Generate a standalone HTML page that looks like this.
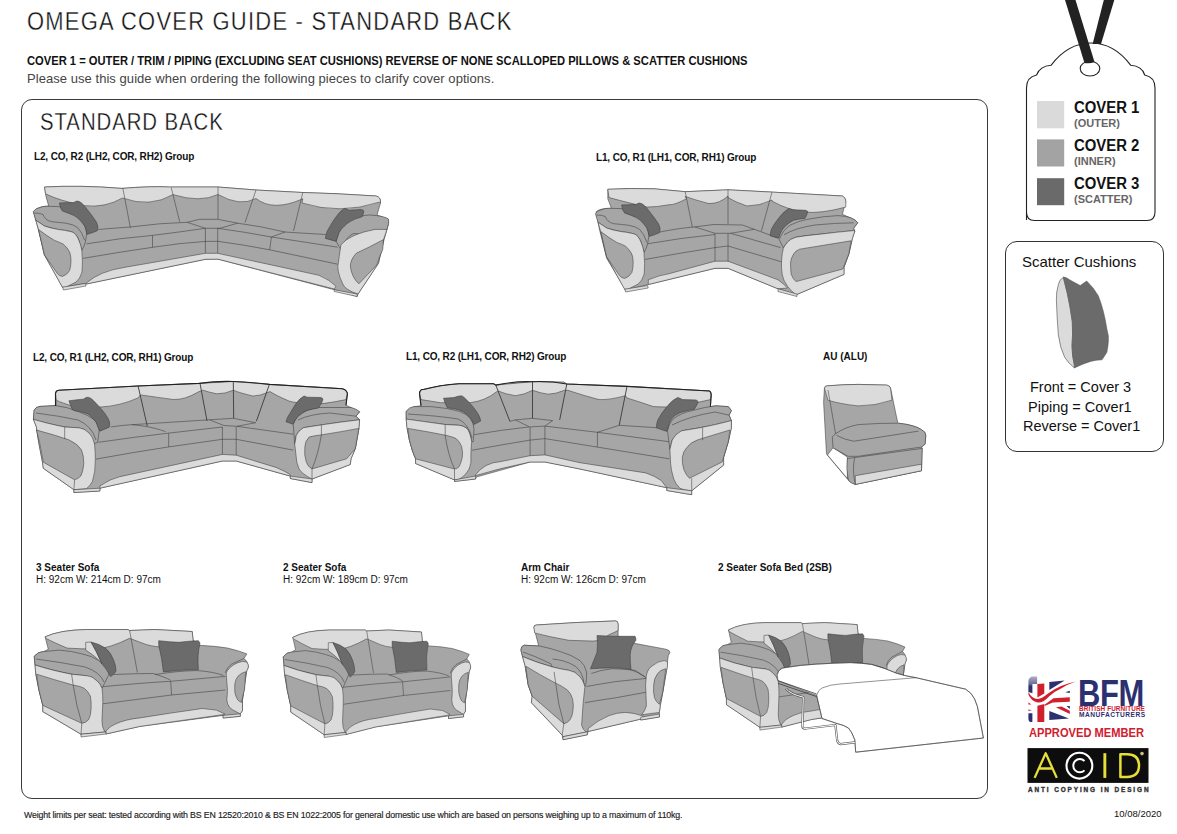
<!DOCTYPE html>
<html><head><meta charset="utf-8">
<style>
*{margin:0;padding:0;box-sizing:border-box}
html,body{width:1177px;height:834px;background:#fff;overflow:hidden;position:relative;font-family:"Liberation Sans",sans-serif;color:#111}
.t{position:absolute;white-space:nowrap;line-height:1}
.b{font-weight:bold}
svg{position:absolute;left:0;top:0}
</style></head><body>
<div class="t" id="title" style="left:27px;top:8.6px;font-size:25.5px;letter-spacing:1.45px;transform:scaleX(0.86);transform-origin:0 0;-webkit-text-stroke:0.35px #fff">OMEGA COVER GUIDE - STANDARD BACK</div>
<div class="t b" id="l1" style="left:27px;top:54.3px;font-size:13px;transform:scaleX(0.86);transform-origin:0 0">COVER 1 = OUTER / TRIM / PIPING (EXCLUDING SEAT CUSHIONS) REVERSE OF NONE SCALLOPED PILLOWS &amp; SCATTER CUSHIONS</div>
<div class="t" id="l2" style="left:27px;top:72px;font-size:13px;color:#444;letter-spacing:0.05px">Please use this guide when ordering the following pieces to clarify cover options.</div>
<div style="position:absolute;left:21px;top:99px;width:967px;height:700px;border:1.3px solid #3a3a3a;border-radius:11px"></div>
<div class="t" id="sb" style="left:40px;top:111.2px;font-size:23.6px;letter-spacing:1.1px;transform:scaleX(0.862);transform-origin:0 0;-webkit-text-stroke:0.3px #fff">STANDARD BACK</div>
<div class="t b lab" style="left:34px;top:152.3px;font-size:10px;letter-spacing:-0.15px">L2, CO, R2 (LH2, COR, RH2) Group</div>
<div class="t b lab" style="left:596px;top:153.3px;font-size:10px;letter-spacing:-0.15px">L1, CO, R1 (LH1, COR, RH1) Group</div>
<div class="t b lab" style="left:33px;top:353.3px;font-size:10px;letter-spacing:-0.15px">L2, CO, R1 (LH2, COR, RH1) Group</div>
<div class="t b lab" style="left:406px;top:352.3px;font-size:10px;letter-spacing:-0.15px">L1, CO, R2 (LH1, COR, RH2) Group</div>
<div class="t b lab" style="left:823px;top:352.3px;font-size:10px">AU (ALU)</div>
<div class="t b lab" style="left:36px;top:563.3px;font-size:10px">3 Seater Sofa</div>
<div class="t lab" style="left:36px;top:575.3px;font-size:10px">H: 92cm W: 214cm D: 97cm</div>
<div class="t b lab" style="left:283px;top:563.3px;font-size:10px">2 Seater Sofa</div>
<div class="t lab" style="left:283px;top:575.3px;font-size:10px">H: 92cm W: 189cm D: 97cm</div>
<div class="t b lab" style="left:521px;top:563.3px;font-size:10px">Arm Chair</div>
<div class="t lab" style="left:521px;top:575.3px;font-size:10px">H: 92cm W: 126cm D: 97cm</div>
<div class="t b lab" style="left:718px;top:563.3px;font-size:10px">2 Seater Sofa Bed (2SB)</div>
<div class="t" style="left:24px;top:810.5px;font-size:8.8px;letter-spacing:-0.17px;color:#222;-webkit-text-stroke:0.15px #222">Weight limits per seat: tested according with BS EN 12520:2010 &amp; BS EN 1022:2005 for general domestic use which are based on persons weighing up to a maximum of 110kg.</div>
<div class="t" style="left:1114px;top:809px;font-size:9.5px">10/08/2020</div>

<!-- Tag -->
<svg width="1177" height="834" viewBox="0 0 1177 834">
<path d="M1026.5 220 L1026.5 88 Q1026.5 77 1036.6 75 Q1040 66 1051 65.3 Q1068 43 1091 43 Q1114 43 1130.8 65.3 Q1142 66 1144.7 75 Q1155 77 1155 88 L1155 212 Q1155 220.5 1147 220.5 L1034.5 220.5 Q1026.5 220.5 1026.5 212 Z" fill="#fff" stroke="#222" stroke-width="1.1"/>
<polygon points="1103.8,0 1114.3,0 1101,44 1092.6,44" fill="#222"/>
<ellipse cx="1090" cy="68.6" rx="9.8" ry="7.4" fill="#fff" stroke="#222" stroke-width="1.1"/>
<path d="M1065 0 L1075.5 0 L1094.5 62 Q1090 64 1084.5 63 Z" fill="#222"/>
<rect x="1037" y="101" width="27.2" height="27.3" fill="#dadada"/>
<rect x="1037" y="139.4" width="27.2" height="27.1" fill="#a3a3a3"/>
<rect x="1037" y="178.2" width="27.2" height="27" fill="#6a6a6a"/>
</svg>
<div class="t b" style="left:1074px;top:99.6px;font-size:16px;transform:scaleX(0.93);transform-origin:0 0">COVER 1</div>
<div class="t b" style="left:1074px;top:118px;font-size:11px;color:#666">(OUTER)</div>
<div class="t b" style="left:1074px;top:138.3px;font-size:16px;transform:scaleX(0.93);transform-origin:0 0">COVER 2</div>
<div class="t b" style="left:1074px;top:156px;font-size:11px;color:#666">(INNER)</div>
<div class="t b" style="left:1074px;top:176px;font-size:16px;transform:scaleX(0.93);transform-origin:0 0">COVER 3</div>
<div class="t b" style="left:1074px;top:194px;font-size:11px;color:#666">(SCATTER)</div>

<!-- Scatter box -->
<div style="position:absolute;left:1005px;top:241px;width:159px;height:211px;border:1.2px solid #333;border-radius:12px"></div>
<div class="t" style="left:1022px;top:254px;font-size:15px">Scatter Cushions</div>
<div class="t" style="left:1030px;top:380px;font-size:14.5px">Front = Cover 3</div>
<div class="t" style="left:1028px;top:400px;font-size:14.5px">Piping = Cover1</div>
<div class="t" style="left:1023px;top:419px;font-size:14.5px">Reverse = Cover1</div>


<!-- SOFAS -->
<svg width="1177" height="834" viewBox="0 0 1177 834" style="stroke:#3a3a3a;stroke-width:0.55;stroke-linejoin:round">
<defs><style>.L{fill:#dbdbdb}.M{fill:#a6a6a6}.D{fill:#6b6b6b}.N{fill:none}</style></defs>
<g id="s1">
<!-- silhouette -->
<path class="M" d="M44.6 187 Q80 185 122 188.4 Q150 186 169.5 187 L218 187 L256 190 L302.8 192.5 L336 193.7 L376 196 Q381 197 380.5 203 L377 215 L388 219 L388.5 224 L384 240 L378.4 263.4 L358 294 L357.2 296.5 L334.2 289.7 L217.8 259.1 L205.4 259.3 L86.3 284 L85.4 283.5 L62.5 287.2 L44.4 254.8 L38.6 230.4 L33.6 212 Q36 207 47 206 L48.7 206 Q45 195 44.6 187 Z"/>
<!-- light back tops -->
<path class="L" d="M44.6 187 Q80 185 122 188.4 Q150 186 169.5 187 L218 187 L256 190 L302.8 192.5 L336 193.7 L376 196 Q381 197 380.5 203 L379.3 202.2 Q340 215 302 203 L302.8 198.8 Q273 212 256 198.5 Q240 207 218 194.5 Q200 203 173 194.6 Q150 208 122.5 198 Q105 208 84.6 205.7 Q60 201 45.5 193.8 Z"/>
<path class="N" d="M122.8 188 L130.4 227.8 M171.2 187.5 L179.7 221.8 M218 187 L218 219 M256 190 L245 222.6 M302.8 192.5 L293.5 231"/>
<!-- seat cushions -->
<path class="N" d="M86.3 243.9 Q120 238 152.5 235.4 Q180 232 205.4 228.3 M98.2 229.5 Q115 228 130.4 227 Q160 223 187.2 222.3 L199.5 219.3 L217.7 219.3 L237.7 223.2 L219.9 228.3 L205.4 228.3 L187.2 222.3 M152.5 235.4 L152.5 247.3 M217.7 228.3 Q245 232 271.4 237 L337.6 247.2 M237.7 223.2 Q260 226 285 232 Q300 233 325.7 234.5 M285 232 L271.4 237 L269.7 249.8 M82.9 258.4 Q120 252 152.5 247.3 Q180 243 205.4 241.4 M217.8 241.3 Q245 245 269.7 249.8 L337.6 264.2 M205.4 228.3 L205.4 259.3 M217.7 228.3 L217.7 259.3 M205.4 241.4 L217.7 241.3"/>
<!-- plinth -->
<path class="L" d="M86.3 283 Q100 271 125 267.3 L205.4 253.3 L217.7 253.3 L319 275.3 Q330 280 336 286.3 L334.2 289 L217.8 259.1 L205.4 259.3 L86.3 284 Z"/>
<!-- left arm -->
<g id="larm1">
<path class="M" d="M33.2 211.7 Q36 208 38.6 208 Q43 206 47.3 206.3 L58.8 206.6 Q66 208 73.2 212.4 Q80 216 83.2 221.7 Q86 227 86.8 233.2 L85.4 241.9 L84 246.2 L81.8 250.5 Q80 244 78.9 240.4 Q76 233 71.7 231.8 Q64 230 58.8 229.6 Q50 228 44.4 226 Q40 223 35.8 220.3 Z"/>
<path class="N" d="M34.3 213 Q40 213 43 214.5 Q44 217 45.8 218.8 Q48 221 51.6 221.7 Q60 222.5 66 223.2 Q74 224.5 77.5 227.5 Q82 232 84.7 240.4"/>
<path class="L" d="M35.8 220.3 Q40 223 44.4 226 Q50 228 58.8 229.6 Q64 230 71.7 231.8 Q76 233 78.9 240.4 Q81 245 81.8 250.5 Q83 262 82 272 Q80 279 76 282.1 L65.9 287.2 L62.4 287.2 L44.4 254.8 L38.6 230 Z"/>
<path class="M" d="M38.6 229.6 Q47 236 54.5 240.4 Q59 242 63.1 244 Q67 247 69.6 252 Q71 256 71 260.6 Q71 266 69.6 270.6 Q67 275 62.4 276.4 Q59 276 57.3 273.5 L44.4 254.8 Z"/>
<path class="L" d="M62.5 287.2 L85.4 283.5 L86 286 L63.5 290 Z"/>
<path class="D" d="M59.4 202.9 L73.8 202.6 Q75.5 201 77.4 201.1 Q79.5 201.5 81 202.6 Q84 205 87 209.2 Q91 214 94.2 218.8 Q97 222 97.8 226 Q98 229 97.2 230.8 Q92 233 87 234.4 Q86 229 84.6 226 Q82 222 78 218.2 Q74 215 69 213.4 L62.4 211 Q60 208 59.4 202.9 Z"/>
</g>
<!-- right arm -->
<path class="M" d="M336 241.3 Q338 228 345 222 Q360 215 370 215 Q385 216 388.6 219.2 L388.6 223.4 L387 229.4 Q375 235 353 233.6 Q345 238 341 249.8 Z"/>
<path class="L" d="M387 229.4 L383.5 239.6 L378.4 263.4 L358 294 Q345 290 342.7 283.8 Q336 270 338.5 262 Q340 250 341 244.7 Q350 234 375 229.4 Z"/>
<path class="M" d="M383.5 239.6 Q370 247 356.3 253.2 Q350 260 350.4 266.8 Q352 278 358.9 283.8 L376.7 265 Q380 255 382.7 249.8 Z"/>
<path class="L" d="M334.2 289.7 L357.2 294 L357.2 296.5 L334.2 291.5 Z"/>
<path class="D" d="M325.4 238.4 Q325.8 234 327.2 231.2 Q331 224 335.6 217.4 Q340 211 344.6 208.4 Q347 209 348.8 210.2 L361.4 209.6 Q363.8 210 363.8 211.4 Q363.5 214 362 216.8 Q355 218.5 350 221.6 Q347 223.5 344 226.4 Q341 229 339.2 232.4 L336.2 241.4 Z"/>
</g>
<g id="s2">
<path class="M" d="M607.8 189.3 Q630 188 654.2 188.8 L685.2 191.7 L728 189.8 L772 192.1 L842.4 196 Q846 198 845.8 201.2 L842.4 214.3 Q846 216 851.2 218 Q856 220 857.8 222.8 L853.6 228.2 L854.8 231.2 L852.4 238.4 L848.8 254 L844 267.2 L844 274.4 L796 294.8 L778 288.8 L728 268.3 L715 268.3 L648.3 284.5 L625.7 290.4 L606.7 258.3 L599.5 229.7 L596 211.9 Q600 208 611.4 208.3 L607.8 198.8 Z"/>
<path class="L" d="M607.8 189.3 Q630 188 654.2 188.8 L685.2 191.7 L728 189.8 L772 192.1 L842.4 196 Q846 198 845.8 201.2 L845.8 207.1 Q820 214 804.3 212 Q790 210.7 772 201.2 L772 200 Q760 206 747 206 Q735 202 728 197.6 L728 196 Q720 203.6 709 203.6 Q695 200 685.2 196.4 L686.4 198.8 Q675 205 668.6 204.8 Q657 207 647 207.1 Q625 202 609 197.6 Z"/>
<path class="N" d="M685.2 191.7 L692.4 227.4 M728 189.8 L728 223.8 M772 192.1 L761.4 231"/>
<path class="N" d="M694.8 226.9 L713.8 224.5 L742.4 225 L754.3 229.3 L730.5 233.3 L715 233.3 Z M715 233.3 L715 268.3 M728 233.3 L728 268.3 M646 244 Q680 238 715 234.5 M644.8 259.5 Q680 253 715 247.6 L728 246 L781.7 261.9 M730.5 233.3 L780.5 247.6 M660 232 Q680 228 694.8 226.9 M754.3 229.3 L778 238"/>
<path class="L" d="M648.3 279.8 Q660 275 668.6 273.8 L715 261.2 L728 261.2 L778 279.8 Q785 285 787.6 288 L778 288.8 L728 268.3 L715 268.3 L648.3 284.5 Z"/>
<use href="#larm1" transform="translate(562.2,2)"/>
<path class="M" d="M779.2 239.6 Q783 230 790 225.2 Q798 221 808 219.2 Q825 216 838 215.6 Q846 216 851.2 218 Q856 220 857.8 222.8 L853.6 228.2 L854.8 231.2 L853.6 230.6 Q838 232 820 234.2 Q805 235.5 796 237.2 Q790 239 787.6 242 Q785 245 783.4 248 Z"/>
<path class="N" d="M784 234.8 Q795 228 815 225 Q835 223 853.6 222.8"/>
<path class="L" d="M854.8 231.2 L852.4 238.4 L848.8 254 L844 267.2 L844 274.4 L796 294.8 Q791 291 787.6 286.4 Q783 280 782.2 274.4 Q781 267 781.6 260 Q782 253 783.4 248 Q785 245 787.6 242 Q790 239 796 237.2 Q805 235.5 820 234.2 Q838 232 853.6 230.6 Z"/>
<path class="M" d="M851.2 240.8 Q825 245 799.6 249.2 Q795 251 793.6 254 Q791 258 790.6 262.4 Q790.5 269 791.2 274.4 Q793 279 796 281.6 L842.8 269 L848.8 254 Z"/>
<path class="L" d="M778 288.8 L797 294 L797 296.5 L778 291.5 Z"/>
<path class="D" d="M770.2 235.8 Q770.5 232 771.4 229.2 Q774 224 778 219 Q783 212 788.8 208.5 Q790.5 208.8 792.4 209.7 L805.6 210.3 Q807.8 210.8 807.7 211.8 Q807 215 805 218.4 Q798 219 793.6 220.2 Q789 222.5 785.2 226.2 Q782 229.5 780.4 233.4 L778.6 238.2 Z"/>
</g>

<g id="s3">
<path class="M" d="M55.5 393.4 Q56 390.3 58.6 390.3 Q100 388 138.1 386 L199.3 383.4 L233.3 381.5 L269.4 384.4 L342.3 388.7 Q347 390 347.4 393.8 L346 405.3 L351 407.5 L359.6 411.8 L356 416.2 L359.6 419.8 L358.9 428.4 L355.3 448.7 L351 458.8 L350.3 464.5 L312 479 L312 482.6 L290.3 478.5 L290.3 476.1 L236.2 461 L222.4 461 L99.9 488.2 L99.9 491 L73.9 492.5 L73.9 489.7 L43.3 468.3 L42.5 462.2 L38.7 442.3 L36.4 427 L33.4 419.3 L34.1 410.2 Q36 406.5 40.2 406.4 L55.5 405.6 L56.3 406.4 Z"/>
<path class="L" d="M55.5 393.4 Q56 390.3 58.6 390.3 Q100 388 138.1 386 L199.3 383.4 L233.3 381.5 L269.4 384.4 L342.3 388.7 Q347 390 347.4 393.8 L346 399.6 Q320 405 310.5 403.9 Q295 403 288.9 401 Q275 395 270.1 391.6 L268 392.3 Q260 396 252.8 396 Q240 393 233.3 390.2 Q225 394 216.7 393.8 Q208 392 203 390.2 L198.5 391.8 Q185 400 173.3 399.5 Q155 397 140.4 394.9 L138.1 397.9 Q120 406 99.9 407.1 Q85 407 73.9 406.4 Q62 403 56.3 400.2 Z"/>
<path class="N" d="M138.1 386 L147.3 426.2 M200 383.4 L207 420.9 M233.3 381.5 L233.7 418.3 M269.4 384.4 L256.4 421.2" style="stroke-width:0.9"/>
<path class="N" d="M98.3 442.3 Q135 437 168.7 433.1 L222.4 427 M110.6 427 Q125 425 132 424.7 Q150 426 165.6 431.6 M132 424.7 L209.4 419.8 L233.3 418.3 L255.7 422.7 L236.9 426.3 L223.9 425.5 L209.4 419.8 M236.9 426.3 L293.2 434.2 M96 459.1 Q135 452 168.7 446.9 L222.4 439.3 L236.2 439.3 L293.2 450.1 M168.7 433.1 L168.7 446.9 M222.4 427 L222.4 461 M236.2 427 L236.2 461"/>
<path class="L" d="M99.9 485.9 Q110 479 119.8 476.7 L222.4 454.4 L236.2 455.2 L275.9 467.4 Q285 471 290.3 474.7 L290.3 476.1 L236.2 461 L222.4 461 L99.9 488.2 Z"/>
<!-- left arm -->
<path class="M" d="M34.1 410.2 Q36 406.5 40.2 406.4 L55.5 405.6 Q68 407 78.5 411.7 Q88 415 93.8 419.3 Q99 424 99.1 431.6 L97.6 442.3 L94.5 443.8 Q92 437 89.2 433.1 Q84 428 78.5 427.8 L64.7 427 Q45 423 33.4 419.3 Z"/>
<path class="N" d="M36 413 Q60 416 78 420 Q92 426 96 440"/>
<path class="L" d="M33.4 419.3 Q45 423 64.7 427 L78.5 427.8 Q84 428 89.2 433.1 Q93 437 94.5 443.8 Q95.5 452 95.3 460.6 Q95.5 472 92.4 481.5 Q90 486 86.4 488.7 L73.9 489.7 L43.3 468.3 L42.5 462.2 L38.7 442.3 L36.4 427 Z"/>
<path class="M" d="M36.4 430 Q55 435 69.3 440 Q78 444 81.5 450 Q84 456 83.8 463.7 Q83 472 80.8 476 Q78 479 74.6 479.8 L43.3 462.2 L39.5 442.3 Z"/>
<path class="N" d="M64.7 427 L64.7 439 M74.6 479.8 L73.9 489.7"/>
<path class="L" d="M73.9 489.7 L99.9 488.2 L99.9 491 L73.9 492.5 Z"/>
<path class="D" d="M68.9 400.8 Q78 399.5 83.4 399.2 Q86 397 88 397.2 Q90 397.5 92 399.2 Q96 403 99.9 407.4 Q105 413 107.8 418 Q110 422 109.7 424.6 Q109.5 426.5 109.1 427.2 L99.9 431.2 Q97 425 95.9 422 Q92 417 88 414 Q80 411 74.8 410.7 L72.2 409.4 Q70 404 68.9 400.8 Z"/>
<!-- right arm -->
<path class="M" d="M293.2 424.1 Q295 418 299 414 Q308 409 317.8 407.5 L351 407.5 Q357 409 359.6 411.8 L356 416.2 L359.6 419.8 Q340 422 322.1 424.8 L303.3 427.7 Q298 431 296.1 435.7 L294.7 444.3 Z"/>
<path class="N" d="M298 420 Q310 414 330 413 L356 416.2"/>
<path class="L" d="M359.6 419.8 L358.9 428.4 L355.3 448.7 L351 458.8 L350.3 464.5 L312 479 Q302 474 299 468.9 Q296 462 296.1 455.9 L294.7 444.3 Q296 438 296.1 435.7 Q298 431 303.3 427.7 L322.1 424.8 Q340 422 359.6 419.8 Z"/>
<path class="M" d="M358.9 428.4 Q340 432 320.6 435 Q312 436 309.1 437.1 Q305 441 304.8 447.2 Q304 455 306.2 461.7 Q308 467 312 468.9 L346.6 458.8 L355.3 448.7 Z"/>
<path class="N" d="M321.4 424.8 L321.4 435 Q318 455 312 468.9 L312 479"/>
<path class="L" d="M290.3 476.1 L312 479 L312 482.6 L290.3 478.5 Z"/>
<path class="D" d="M286 421.8 Q287 417 289.6 414 Q293 408 296.2 403.2 Q300 398 304 396 Q305.5 396.3 307 397.2 L320.8 397.5 Q323 398 322.9 399.6 Q322.5 401.5 321.4 403.2 L318.4 408 Q312 409 307 410.4 Q302 413 298 416.4 Q295 420 293.2 424.2 Z"/>
</g>

<g id="s4">
<path class="M" d="M419.5 393.4 Q420 389 423.4 389.5 Q440 385 459.2 383.7 L493.5 383.7 L495.8 385.1 L532.5 381.7 L563.6 382.2 L566.8 384 L627 386.4 L709.6 391 Q711 392 711.2 394.9 L710.4 406.6 L715.8 405.8 L728.3 406.6 L731.4 410.5 L729.1 415.2 L731.4 420.6 L731.4 427.7 L728.3 441.7 L723.6 457.3 L723.6 465.1 L691.7 490.8 L691.7 494.7 L666.8 490.5 L666.8 487.7 L580 469 L544.9 462 L530.1 462 L476.4 477 L475.6 479 L454.5 481.4 L454.5 479.9 L415.6 463.5 L415.6 458.8 L412.5 451 L409.4 440.1 L407 427.7 L406.2 419.1 L406.2 411.3 L414 406.6 L421 405.8 Z"/>
<path class="L" d="M419.5 393.4 Q420 389 423.4 389.5 Q440 385 459.2 383.7 L493.5 383.7 L495.8 385.1 L532.5 381.7 L563.6 382.2 L566.8 384 L627 386.4 L709.6 391 Q711 392 711.2 394.9 L710.4 399.6 Q690 405 669.1 407.1 Q660 407 653.5 406.6 Q640 402 627 398 L625.5 395.7 Q610 400 599 399.6 Q585 396 567.8 390.3 L564.4 390.3 Q556 394 548 394.2 Q540 393 532.5 390.3 Q524 395 515.3 395.7 Q505 394 498.2 391 L496.6 391.8 Q485 401 470.1 402.7 L440.5 402.7 Q430 401 421 399.6 Z"/>
<path class="N" d="M495.8 385.1 L509.9 421.4 M532.5 381.7 L532.5 418.3 M566.8 384 L559.7 419.9 M627 386.4 L619.2 425.3" style="stroke-width:0.9"/>
<path class="N" d="M474 434.7 Q500 430 529.4 426.9 L515.3 419.9 L532.5 418.3 L552.7 420.6 L544.9 426.1 L530.1 426.9 M544.9 426.1 L597.4 432.3 L669.1 441.7 M597.4 432.3 L619.2 425.3 L656.6 427.7 M509.9 421.4 L515.3 419.9 M471.7 450.3 Q500 445 530.1 440.1 L544.9 438.6 L597.4 447.1 L669.1 458.8 M597.4 432.3 L597.4 447.1 M530.1 426.9 L530.1 462 M544.9 426.1 L544.9 462"/>
<path class="L" d="M475.3 475 Q480 469 486 465.5 Q493 462 500 461.7 L530.1 455.7 L544.9 454.9 L580 462.7 L645.7 472.9 Q655 476 661.3 480.6 L666.8 487.7 L580 469 L544.9 462 L530.1 462 L500 468.8 L475.3 475.7 Z"/>
<!-- left arm -->
<path class="M" d="M406.2 411.3 Q409 407 414 406.6 L431.2 406.6 Q448 408 459.2 411.3 Q467 414 470.1 418.3 Q474 423 474 429.2 L473.2 441.7 L471.7 441.7 Q470 432 467 428.4 Q463 425.5 459.2 425.3 L445.2 424.5 Q420 421 406.2 419.1 Z"/>
<path class="N" d="M408 414 Q440 416 458 419 Q468 423 472 438"/>
<path class="L" d="M406.2 419.1 Q420 421 445.2 424.5 L459.2 425.3 Q463 425.5 467 428.4 Q470 432 471.7 441.7 Q471 448 470.9 454.2 L470.9 462.4 Q470 467 468.8 469.6 Q466.5 473.5 463.7 476 Q461 478.5 458 479.6 L454.5 479.9 L415.6 463.5 L415.6 458.8 L412.5 451 L409.4 440.1 L407 427.7 Z"/>
<path class="M" d="M407.8 428.4 Q430 432 446.8 435.5 Q453 437 456.1 438.6 Q460 442 461.6 446.4 Q463 452 462.3 457.3 Q461 463 459.2 466.6 Q457 469 454.5 469 L415.6 458.8 L412.5 451 L409.4 440.1 Z"/>
<path class="N" d="M445.2 424.5 L445.2 435.5 Q448 455 454.5 469 L454.5 479.9"/>
<path class="L" d="M454.5 479.9 L475.6 476 L475.6 479 L454.5 481.4 Z"/>
<path class="D" d="M443.5 398.2 L454 397.6 Q458 396 461.2 395.8 Q462.5 396 463.6 397 Q467 400 470.8 404.2 Q475 409 478 413.8 Q480 417 480.7 421 L473.8 424.6 Q472.5 421 470.8 418.6 Q467 414 463.6 412 Q459 409.5 455.2 409 L447.4 407.8 Q445.5 405 443.5 398.2 Z"/>
<!-- right arm -->
<path class="M" d="M667.5 430.8 Q669 424 672.2 419.9 Q680 413 692.5 410.5 Q705 407 715.8 405.8 L728.3 406.6 L731.4 410.5 L729.1 415.2 L731.4 420.6 Q715 425 700.3 427.7 L681.6 430.8 Q675 434 672.2 440.1 L669.9 449.5 Z"/>
<path class="N" d="M672 425 Q690 416 715 412 L729.1 415.2"/>
<path class="L" d="M731.4 420.6 L731.4 427.7 L728.3 441.7 L723.6 457.3 L723.6 465.1 L691.7 490.8 Q684 490 680 488.4 Q675 483 673.8 479.1 Q671 470 670.6 463.5 L669.9 449.5 L672.2 440.1 Q675 434 681.6 430.8 L700.3 427.7 Q715 425 731.4 420.6 Z"/>
<path class="M" d="M729.9 430 Q710 436 697.1 440.1 Q690 443 687.8 446.4 Q683 451 682.3 457.3 Q682 464 683.9 469.7 Q686 475 689.4 478.3 L722.1 462 L728.3 441.7 Z"/>
<path class="N" d="M702.6 427.7 L702.6 440.1 M691.7 478.3 L691.7 490.8"/>
<path class="L" d="M666.8 487.7 L691.7 490.8 L691.7 494.7 L666.8 490.5 Z"/>
<path class="D" d="M656.3 427.8 Q656.5 423 657.8 420 Q662 412 666.8 406.8 Q672 400 677.6 397.5 Q680 398 682.4 399.6 L695.6 399.9 Q698 400.5 698 401.7 Q697.8 403.5 696.8 405 L694.4 409.2 Q686 410.5 680 412.8 Q675 415 672.8 417.6 Q670 420 669.2 423.6 L666.8 431.4 Z"/>
</g>

<g id="s5">
<path class="M" d="M824.4 388 Q825 385.5 828 385.8 Q843 384.5 858.2 384.4 L886.9 385.1 Q890 386 890.5 388 L897.7 422.5 L898.5 423.2 Q915 425 921.5 429.7 Q926 432 925.8 435.4 L925.1 444.1 L921.5 447 L922.2 448.4 L921.5 470.7 L855.3 484.4 L849.5 481.5 L826.5 454.1 L823.6 402.3 Z"/>
<path class="L" d="M824.4 388 Q825 385.5 828 385.8 Q843 384.5 858.2 384.4 L886.9 385.1 Q890 386 890.5 388 L892 400.2 Q875 406 858.2 405.9 Q840 404 828 400.2 Z"/>
<path class="N" d="M828 390 L835.9 435.4"/>
<path d="M833 447.7 L847.4 457 L847.4 478.6 L827.5 455 Z" fill="#fff"/>
<path class="M" d="M835.1 434 Q845 427 858.2 424.6 Q880 423 898.5 423.2 Q915 425 921.5 429.7 Q926 432 925.8 435.4 L925.1 444.1 L921.5 447 L858.2 456.3 L848.1 456.3 L833 447.7 L832.3 436.9 Z"/>
<path class="N" d="M836.6 435.4 Q845 440 853.8 441.2 L918.6 431.1"/>
<path class="M" d="M847.4 458.5 L922.2 448.4 L921.5 470.7 L855.3 484.4 Q849 483 848.1 478.6 Q846 468 847.4 458.5 Z"/>
<path class="L" d="M855.3 475.7 L921.5 464.2 L921.5 470.7 L855.3 484.4 Z"/>
<path class="N" d="M854.6 457.7 Q852 470 855.3 484.4"/>
</g>

<g id="s6">
<path class="M" d="M45.1 636.8 Q60 630 86.6 629.5 L127.7 629.5 L129.6 630.5 L155 629.5 L192.2 631.5 L193.1 640 L199.3 645.3 Q215 646 227.4 648 Q240 651 246.8 653.9 L244 658.5 Q247 660 248.4 666.3 Q248 669 246.8 670.6 L245.2 680.3 L242.5 699.7 L242.5 710.5 L240.3 713.8 L240.3 716.3 L223.1 718 L223.1 715.4 L140 726.4 L105.9 734 L105.9 731.9 L81 735 L81 734.2 L42.8 711.6 L42.8 705.4 L38.9 689.8 L35.8 674.2 L35 664.9 L34.2 656.3 Q38 651.6 43.6 651.6 L48.3 649.3 Z"/>
<path class="L" d="M45.1 636.8 Q60 630 86.6 629.5 L127.7 629.5 L129.6 630.5 L155 629.5 L192.2 631.5 L193.1 640 L193.1 645.2 Q175 648 160.9 647.1 Q150 646 145.3 644.2 L129.6 638.3 Q110 648 96.4 649 Q80 649 67.1 648.1 Q55 643 45.9 638.4 Z"/>
<path class="N" d="M129.6 630.5 L137.4 672.5"/>
<path class="N" d="M102.8 686.7 Q140 683 170.7 681.3 L225.4 676.4 M114 674.5 Q135 673.5 153.1 673.5 Q165 677 170.7 680.4 M155 674.5 Q180 670.6 198 670.6 Q215 672 223.4 675.5 M170.7 681.3 L171.6 695 M102.8 703.8 Q140 699 171.6 695 L225.4 690"/>
<path class="L" d="M105.9 731.1 Q110 726 115.3 724.1 Q125 719.4 140 717.9 Q170 713 202.3 708.5 L216.4 710.1 L224.9 714 L222.6 714.7 L140 726.4 L105.9 734 Z"/>
<!-- left arm -->
<path class="M" d="M34.2 656.3 Q38 651.6 43.6 651.6 L59.2 650.1 Q72 651 82.5 654 Q92 656 98.1 660.2 Q104 663 105.9 666.4 Q109 670 109 674.2 L104.4 683.6 L102 688.2 Q100 683 96.6 680.5 Q92 676 87.2 675.8 L71.6 674.2 Q50 670 35 664.9 Z"/>
<path class="N" d="M36 659 Q60 662 85 667 Q100 672 104 682"/>
<path class="L" d="M35 664.9 Q50 670 71.6 674.2 L87.2 675.8 Q92 676 96.6 680.5 Q100 683 102 688.2 Q103 695 102.8 702.3 L102 721 Q102 727 104.4 731.1 L105.9 731.9 L81 734.2 L42.8 711.6 L42.8 705.4 L38.9 689.8 L35.8 674.2 Z"/>
<path class="M" d="M36.6 674.2 Q55 680 73.2 685.1 Q80 686 84.1 688.2 Q88 691 90.3 696 Q91.5 702 91.1 708.5 Q91 715 88.8 719.4 Q86 723 81.8 723.3 L42.8 705.4 L38.9 689.8 Z"/>
<path class="N" d="M71.6 674.2 L73.2 685.1 Q76 705 81.8 723.3 L81 734.2"/>
<path class="L" d="M81 734.2 L105.9 731.9 L105.9 734 L81 737 Z"/>
<path class="L" d="M85.7 642.3 L91 642 Q96 650 102 664 L99.7 661 Q95 656 85.7 650 Z"/>
<path class="D" d="M91 642 Q100 644 105.9 648.5 Q111 653 113.7 660.2 Q116 666 116 671.1 Q114 675 110.6 676.6 Q106 668 102 664 Q96 650 91 642 Z"/>
<!-- right arm -->
<path class="N" d="M244 658.5 Q238 661 231.7 664.1 Q227 667 225.2 672.8"/>
<path class="L" d="M226.3 676 Q226 672 227.4 670.6 Q230 667 233.8 664.7 Q238 662 242.5 661.4 L246.8 662 Q248.4 664 248.4 666.3 Q248 669 246.8 670.6 L245.2 680.3 L242.5 699.7 L242.5 710.5 L240.3 713.8 Q238 713 236 711.6 Q232 710 229.5 707.3 Q227 704 226.8 699.7 Q227.5 694 227.4 689 Z"/>
<path class="M" d="M245.7 671.7 Q241 673 238.2 676 Q235.5 679 234.9 683.6 Q234.5 688 234.9 692.2 Q235.5 696 237.6 699.7 Q239 701.5 241.4 702.4 L244.6 689 Z"/>
<path class="L" d="M223.1 715.4 L240.3 713.8 L240.3 716.3 L223.1 718 Z"/>
<path class="D" d="M158.7 640.7 Q170 642 179 642.3 Q190 641 198.4 640.7 L200 643 Q197 655 198.4 669.5 Q180 670 163.4 671.9 Q162 658 158.7 645 Z"/>
</g>

<use href="#s6" transform="translate(253.3,0.5) scale(0.875,1)"/>

<g id="s8">
<path class="M" d="M533.9 627.4 Q534 625 536.3 625 L576.8 622.5 L615.6 620.9 Q618 621 618.1 624.1 L618.1 636.3 L635.9 643.6 L665.8 649.2 Q670 650 669.9 652.5 L668.3 655.7 L667.4 662.2 L666.6 670.3 L662.6 693 L660.2 705.9 L659.4 712.4 L659.4 717 L640.7 720 L641.5 718.9 L588.1 731.5 L587.3 734.8 L563 739.7 L562.2 735.1 L531.4 702.7 L532.2 696.2 L528.2 684.9 L525 665.4 L522.5 656.5 L520.9 650 Q521 646 524.1 645.2 L538.7 646 Z"/>
<path class="L" d="M533.9 627.4 Q534 625 536.3 625 L576.8 622.5 L615.6 620.9 Q618 621 618.1 624.1 L618.1 630.6 Q613 633 609.1 634.7 Q600 641 593 641.1 L568.7 640.3 Q550 637 534.7 633 Z"/>
<path class="N" d="M586.5 686.5 Q600 684 615.6 681.6 L646.4 678.4 M591.3 673.5 Q600 670 612.4 668.7 Q625 669 635.1 670.3 L644.8 676.8 M584.9 702.7 Q600 700 615.6 697.8 L646.4 692.2"/>
<path class="L" d="M588.1 728.6 Q598 720 609.1 715.6 Q617 712.5 625.3 712.4 Q635 713 641.5 715.6 L644.8 717.2 L641.5 718.9 L588.1 731.5 Z"/>
<!-- left arm -->
<path class="M" d="M520.9 650 Q521 646 524.1 645.2 L539.5 646 Q550 648 560.6 651.7 Q572 655 580 660.6 Q585 665 586.5 671.9 Q587 678 585.7 684.9 L584.9 686.5 Q583 680 580 676.8 Q575 671 568.7 670.3 Q560 669 552.5 667 Q535 662 522.5 656.5 Z"/>
<path class="N" d="M523 652 Q535 656 550.9 663.8 M552.5 659 Q565 660 575 666 Q583 672 584 684 M550.9 663.8 L554.1 671.9"/>
<path class="L" d="M522.5 656.5 Q535 662 552.5 667 Q560 669 568.7 670.3 Q575 671 580 676.8 Q583 680 584.9 686.5 L583.2 702.7 L581.6 725.3 Q583 730 586.5 732.6 L587.3 731.8 L563 736.7 L562.2 735.1 L531.4 702.7 L532.2 696.2 L528.2 684.9 L525 665.4 Z"/>
<path class="M" d="M525.8 666.2 Q540 675 555.7 683.2 Q562 686 567 689.7 Q571 693 572.7 699.4 Q574 706 572.7 712.4 Q572 717 569.5 720.5 Q567 723 563.8 723.7 L532.2 696.2 L528.2 684.9 Z"/>
<path class="N" d="M554.1 671.9 L555.7 683.2 Q558 705 563.8 723.7 L562.2 735.1"/>
<path class="L" d="M563 736.7 L587.3 731.8 L587.3 734.8 L563 739.7 Z"/>
<!-- right arm -->
<path class="N" d="M630.2 669.5 Q638 672 644.8 676.8 L646.4 678.4"/>
<path class="L" d="M646.4 675.1 Q648 668 652.9 665.4 Q658 661 664.2 660.6 Q667 661 667.4 662.2 Q668 666 666.6 670.3 L662.6 693 L660.2 705.9 L659.4 712.4 L641.5 714.8 Q645 711 646.4 705.9 Q646 695 645.6 684.9 Z"/>
<path class="M" d="M665.8 668.7 Q660 670 657.7 673.5 Q654 678 653.7 684.9 Q653 692 654.5 697.8 Q656 702 659.4 704.3 L662.6 693 Z"/>
<path class="L" d="M640.7 717.2 L659.4 714 L659.4 717 L640.7 720 Z"/>
<path class="D" d="M597 635.5 Q606 636 615.6 636.3 L635.1 636.3 Q636 638 635.9 640.3 Q631 646 630.2 654.1 Q630 662 631 669.5 Q620 667.5 609.1 667.9 Q600 668 590.5 668.7 Q594 660 597 652.5 Q598 643 597 635.5 Z"/>
</g>

<g id="s9">
<use href="#s6" transform="translate(689,-6.9) scale(0.875,1)"/>
<path d="M777.2 674.6 Q779 668 785 667.6 Q800 665 816.3 664.1 Q835 663 850.3 662.6 Q862 663 871.6 664.4 Q885 668 896.5 673.2 Q905 676 916 677.7 L965.7 689.2 Q972 693 974.6 699 Q978 706 979 714.9 L983.4 738 L855.7 752.2 L854.8 739.8 Q852 732 848.6 728.2 Q844 725 837.9 723.8 L822 718.5 L816.6 695.4 L778 680.7 Z" fill="#fff"/>
<path class="N" d="M777.2 674.6 Q779 668 785 667.6 Q800 665 816.3 664.1 Q835 663 850.3 662.6 Q862 663 871.6 664.4 Q885 668 896.5 673.2 Q905 676 916 677.7 L965.7 689.2 Q972 693 974.6 699 Q978 706 979 714.9 L983.4 738 L855.7 752.2 L854.8 739.8 Q852 732 848.6 728.2 Q844 725 837.9 723.8 L822 718.5 L816.6 695.4 Q818 690 822 688 Q830 684.5 840 684 L916 677.7"/>
<path d="M778 680.7 L816.6 694 M778 683.3 L816.6 696.6" fill="none" stroke-width="0.8"/>
<path d="M785.9 688.5 Q790 694 803.3 697.2 L802.4 726.7 Q803 729 805.9 728.5 L835.4 725 L837.2 740.6 Q838 744 840.6 744.1 L854.8 742.4" fill="none" stroke="#555" stroke-width="2.2"/>
<path d="M785.9 688.5 Q790 694 803.3 697.2 L802.4 726.7 Q803 729 805.9 728.5 L835.4 725 L837.2 740.6 Q838 744 840.6 744.1 L854.8 742.4" fill="none" stroke="#fff" stroke-width="1"/>
</g>

<g id="cush">
<path class="L" d="M1063.6 277 Q1059 280 1058.5 284.1 Q1056 292 1056.4 300 Q1057 318 1058.3 334.7 Q1060 348 1064.7 357.4 Q1069 364 1074.4 367.9 L1074.4 365.5 Q1072 355 1072 346 Q1073 335 1072.3 321.7 Q1070 305 1067.2 292.8 Q1065 284 1063.6 278.4 Z"/>
<path class="D" d="M1063.6 277 Q1066 277 1070 280 L1080.2 285.6 L1086.7 281 Q1094 288 1098.3 295.7 Q1104 310 1106.9 328.9 Q1109 336 1108.4 341.2 Q1108 348 1106.8 352.5 L1102 359.8 Q1096 360 1090.6 361.4 Q1082 364 1074.4 367.9 L1074.4 365.5 Q1072 355 1072 346 Q1073 335 1072.3 321.7 Q1070 305 1067.2 292.8 Q1065 284 1063.6 278.4 Z" style="stroke:#555;stroke-width:0.5"/>
</g>

<g id="logos" style="stroke:none">
<!-- flag -->
<defs><linearGradient id="fg" x1="0" y1="0" x2="0" y2="1"><stop offset="0" stop-color="#b0aec8"/><stop offset="0.45" stop-color="#6d6c9a"/><stop offset="0.6" stop-color="#2b3170"/></linearGradient></defs>
<path d="M1028.4 681 Q1029 676.4 1033 676.4 L1037.1 676.4 L1037.1 684 L1032.4 684 L1032.4 693.2 L1028.4 692 Z" fill="url(#fg)"/>
<path d="M1037.4 684 L1044.3 683.5 L1044.3 693.5 L1037.4 697.6 Z" fill="#d0202e"/>
<path d="M1037.4 705.7 L1044.3 704 L1044.3 721.9 L1037.4 721.9 Z" fill="#d0202e"/>
<path d="M1049.3 682 L1064.6 680.4 L1049.3 690.1 Z" fill="#2b3170"/>
<path d="M1065.2 692.3 L1069.8 690.7 L1069.8 692.9 Z" fill="#2b3170"/>
<path d="M1044.6 704.7 L1053.4 698.2 L1069.8 697.3 L1069.8 701.7 L1052.7 702.6 L1044.6 706 Z" fill="#d0202e"/>
<path d="M1028.4 694.5 Q1031 701 1037.7 702.6 Q1043 703 1049 696.4 Q1055 691 1061.5 688.2 Q1068 684 1075.8 681.4 Q1068 683 1061 686 Q1054 689 1048 693.5 Q1042 698.5 1037.7 699 Q1032 699 1028.4 692 Z" fill="#d0202e"/>
<path d="M1049.3 711 L1069 718.5 L1049.3 720 Z" fill="#2b3170"/>
<path d="M1055.9 707.3 L1061.5 706.4 L1069.8 710.8 L1069.8 713.9 Z" fill="#d0202e"/>
<path d="M1066.5 706 L1069.8 706 L1069.8 708.9 Z" fill="#2b3170"/>
<path d="M1028.4 713.2 L1032.4 713.2 L1032.4 722 L1030 722 Q1028.4 721 1028.4 719 Z" fill="#2b3170"/>
<path d="M1028.4 702.5 L1031.5 704.5 L1028.4 704.5 Z M1028.4 709.5 L1032 710.3 L1028.4 711 Z" fill="#d0202e"/>
<!-- ACID -->
<rect x="1027.5" y="748.1" width="121" height="34.8" fill="#0d0d0d"/>
<path d="M1034.6 777.9 L1045.7 753.2 L1056.8 777.9 M1039 768.5 L1052.4 768.5" stroke="#e6df3a" stroke-width="2.3" fill="none"/>
<circle cx="1079.4" cy="765.7" r="12.9" stroke="#fff" stroke-width="2.1" fill="none"/>
<path d="M1084.5 761 A6.6 6.6 0 1 0 1084.5 770.4" stroke="#fff" stroke-width="2" fill="none"/>
<rect x="1103.4" y="753.2" width="2.9" height="24.7" fill="#e6df3a"/>
<path d="M1120.4 754.2 L1127 754.2 Q1139 754.2 1139 765.5 Q1139 776.9 1127 776.9 L1120.4 776.9 Z" stroke="#e6df3a" stroke-width="2.5" fill="none"/>
<circle cx="1142" cy="753.6" r="1.8" fill="#c9c47a"/>
</g>

<path class="N" style="stroke:#222;stroke-width:1.1" d="M55.5 406 L55.5 393.4 Q56 390.3 58.6 390.3 Q100 388 138.1 386 L199.3 383.4 Q215 381 233.3 381.5 Q250 382 269.4 384.4 L342.3 388.7 Q347 390 347.4 393.8 L346 405.3"/>
<path class="N" style="stroke:#222;stroke-width:1.1" d="M421 405.8 L419.5 393.4 Q420 389 423.4 389.5 Q440 385 459.2 383.7 L493.5 383.7 L495.8 385.1 Q515 381 532.5 381.7 Q550 381 566.8 384 L627 386.4 L709.6 391 Q711 392 711.2 394.9 L710.4 406.6"/>

<!--END-->
</svg>

<div class="t b" style="left:1078px;top:676px;font-size:36px;color:#2b3170;transform:scaleX(0.86);transform-origin:0 0;letter-spacing:-0.5px">BFM</div>
<div class="t b" style="left:1079px;top:706.3px;font-size:6.4px;color:#d0202e;letter-spacing:0.1px">BRITISH FURNITURE</div>
<div class="t b" style="left:1079px;top:712.3px;font-size:6.6px;color:#2b3170;letter-spacing:0.5px">MANUFACTURERS</div>
<div class="t b" style="left:1028.5px;top:726.5px;font-size:12px;color:#d0202e;letter-spacing:0px;transform:scaleX(0.927);transform-origin:0 0">APPROVED MEMBER</div>
<div class="t b" style="left:1028px;top:786.6px;font-size:6.4px;color:#333;letter-spacing:1.9px;-webkit-text-stroke:0.35px #333">ANTI COPYING IN DESIGN</div>
</body></html>
